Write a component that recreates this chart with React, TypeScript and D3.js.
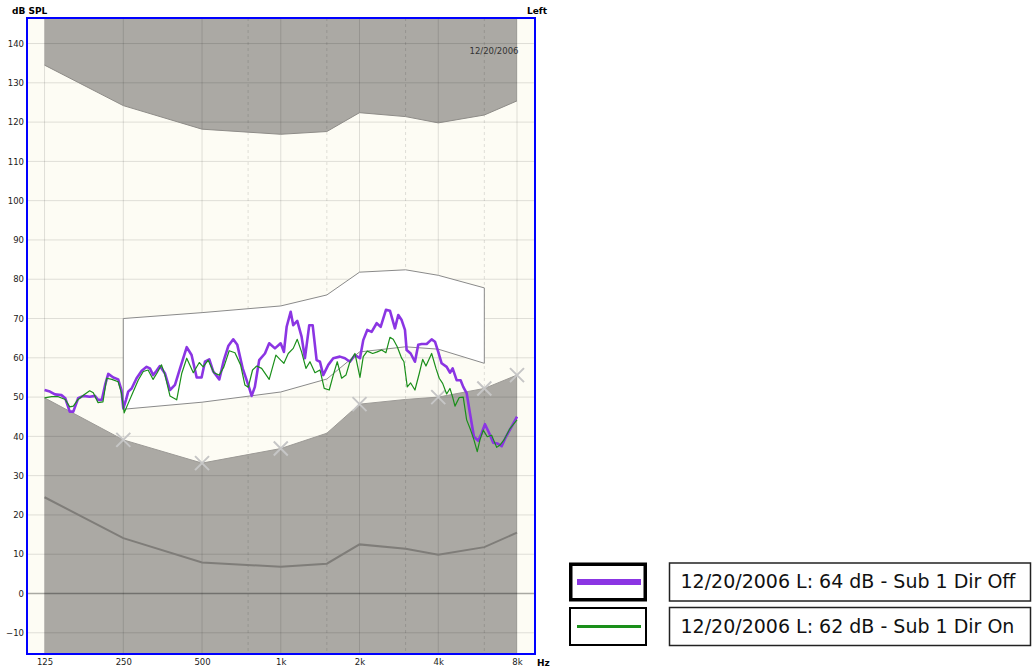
import React, { useEffect, useRef } from 'react';
import * as d3 from 'd3';

// axis ticks
const freqTicks = [125, 250, 500, 1000, 2000, 4000, 8000];
const freqTickLabels = ['125', '250', '500', '1k', '2k', '4k', '8k'];
const midFreqs = [750, 1500, 3000, 6000];
const dbTicks = [-10, 0, 10, 20, 30, 40, 50, 60, 70, 80, 90, 100, 110, 120, 130, 140];

// audiometric limits (UCL on top, threshold below, noise line)
const boundFreqs = [125, 250, 500, 1000, 1500, 2000, 3000, 4000, 6000, 8000];
const uclDb = [134.5, 124.2, 118.2, 116.9, 117.6, 122.4, 121.4, 119.8, 121.8, 125.4];
const thresholdDb = [49.8, 39.1, 33.2, 36.9, 40.8, 48.2, 49.4, 50.0, 52.2, 55.6];
const noiseDb = [24.5, 14.1, 7.9, 6.8, 7.6, 12.5, 11.4, 9.9, 11.8, 15.5];
const markerFreqs = [250, 500, 1000, 2000, 4000, 6000, 8000];

// target speech zone
const zoneFreqs = [250, 500, 1000, 1500, 2000, 3000, 4000, 6000];
const zoneTop = [70.0, 71.5, 73.2, 76.0, 81.8, 82.4, 81.0, 77.8];
const zoneBottom = [46.9, 48.7, 51.3, 54.6, 61.5, 62.8, 62.2, 58.6];

// Dir Off response
const offFreqs = [
  125, 131, 137, 145, 150, 156, 161, 168, 176, 186,
  195, 200, 207, 213, 219, 229, 239, 246, 250, 256,
  261, 269, 281, 294, 307, 316, 325, 335, 345, 361,
  377, 394, 412, 437, 456, 477, 498, 513, 533, 552,
  582, 606, 630, 658, 682, 715, 751, 774, 796, 827,
  870, 903, 950, 999, 1028, 1053, 1091, 1116, 1156, 1201,
  1237, 1285, 1324, 1371, 1412, 1453, 1519, 1587, 1683, 1759,
  1838, 1921, 2008, 2067, 2141, 2225, 2326, 2409, 2524, 2614,
  2732, 2813, 2898, 2984, 3028, 3137, 3258, 3354, 3456, 3612,
  3774, 3886, 4000, 4121, 4307, 4434, 4540, 4703, 4871, 4984,
  5136, 5287, 5477, 5688, 5861, 6034, 6266, 6491, 6724, 6989,
  7259, 7633, 8000,
];
const offDb = [
  51.8, 51.4, 50.7, 50.5, 49.7, 46.3, 46.3, 49.7, 50.3, 50.1,
  50.3, 49.3, 49.3, 53.1, 55.9, 55.0, 54.5, 51.8, 47.1, 49.3,
  51.4, 52.2, 54.8, 56.7, 57.7, 57.3, 55.6, 56.7, 57.9, 56.0,
  51.8, 53.1, 57.3, 62.7, 60.7, 55.0, 55.0, 59.0, 59.6, 56.5,
  54.5, 59.4, 63.0, 64.7, 63.3, 57.3, 53.1, 50.3, 52.6, 59.4,
  61.1, 63.7, 62.4, 63.7, 61.5, 67.9, 71.7, 68.3, 69.4, 65.4,
  59.9, 68.3, 68.3, 59.4, 59.0, 55.6, 58.2, 59.9, 60.3, 59.9,
  59.0, 60.7, 59.9, 64.5, 67.1, 66.6, 68.8, 67.9, 72.2, 72.0,
  67.5, 70.9, 69.6, 67.1, 62.0, 61.1, 59.0, 63.3, 63.5, 63.5,
  64.7, 64.1, 61.5, 58.6, 57.7, 56.2, 57.3, 54.3, 54.3, 52.6,
  51.0, 45.9, 39.9, 38.9, 40.8, 43.1, 40.8, 38.4, 38.2, 37.5,
  39.9, 42.5, 45.0,
];

// Dir On response
const onFreqs = [
  125, 133, 141, 150, 156, 161, 168, 178, 186, 192,
  200, 209, 216, 226, 239, 246, 252, 261, 273, 285,
  298, 311, 325, 337, 350, 361, 377, 400, 418, 437,
  463, 488, 505, 528, 555, 582, 606, 635, 668, 702,
  729, 751, 780, 809, 845, 903, 958, 999, 1028, 1068,
  1116, 1156, 1201, 1248, 1293, 1351, 1412, 1466, 1532, 1587,
  1644, 1709, 1775, 1838, 1921, 2008, 2067, 2141, 2245, 2338,
  2430, 2524, 2614, 2691, 2788, 2898, 2958, 3045, 3137, 3258,
  3384, 3487, 3590, 3774, 3920, 4035, 4158, 4307, 4434, 4540,
  4634, 4812, 4984, 5136, 5320, 5477, 5638, 5774, 5944, 6157,
  6400, 6689, 6886, 7133, 7520, 8000,
];
const onDb = [
  49.8, 50.1, 50.1, 49.4, 47.5, 47.7, 49.4, 50.7, 51.6, 51.1,
  48.6, 48.8, 54.8, 54.5, 53.9, 51.0, 46.0, 48.4, 51.4, 54.3,
  56.5, 56.9, 54.5, 56.2, 58.2, 55.6, 50.3, 49.3, 56.0, 59.9,
  56.2, 58.8, 57.7, 59.4, 56.2, 55.6, 57.7, 61.8, 61.3, 58.2,
  53.1, 52.5, 56.9, 57.9, 57.3, 54.5, 60.7, 59.4, 58.6, 61.1,
  62.4, 64.7, 61.5, 57.3, 59.0, 56.2, 56.9, 52.2, 51.8, 55.6,
  59.0, 54.8, 55.6, 59.0, 61.1, 55.0, 60.3, 61.7, 61.1, 61.5,
  62.0, 61.3, 65.2, 64.7, 62.8, 59.9, 59.0, 52.6, 53.6, 51.8,
  56.0, 59.6, 57.9, 61.1, 57.3, 54.8, 53.5, 50.8, 52.2, 50.0,
  47.7, 49.9, 50.0, 44.2, 41.6, 39.1, 36.1, 39.1, 41.6, 39.9,
  40.3, 37.2, 37.8, 39.1, 42.0, 44.2,
];

const legendLabels = [
  '12/20/2006 L: 64 dB - Sub 1 Dir Off',
  '12/20/2006 L: 62 dB - Sub 1 Dir On',
];
const seriesColors = ['#8b35e3', '#1a8f1a'];

const W = 1034;
const H = 668;
const frame = { left: 27, right: 535, top: 18, bottom: 654 };
const GRAY = '#aba9a4';
const FONT = "'DejaVu Sans', Verdana, sans-serif";

function App() {
  const svgRef = useRef<SVGSVGElement>(null);

  useEffect(() => {
    const svg = d3.select(svgRef.current);
    svg.selectAll('*').remove();

    const x = d3.scaleLog().domain([107.1, 9374]).range([frame.left, frame.right]);
    const y = d3.scaleLinear().domain([-15.4, 146.5]).range([frame.bottom, frame.top]);
    const [yMin, yMax] = y.domain();

    svg.append('rect').attr('width', W).attr('height', H).attr('fill', '#fff');
    svg.append('rect')
      .attr('x', frame.left).attr('y', frame.top)
      .attr('width', frame.right - frame.left).attr('height', frame.bottom - frame.top)
      .attr('fill', '#fdfcf4');

    const bounds = boundFreqs.map((f, i) => ({ f, ucl: uclDb[i], thr: thresholdDb[i], noise: noiseDb[i] }));

    // gray regions above UCL and below threshold
    svg.append('path').datum(bounds).attr('fill', GRAY)
      .attr('d', d3.area<any>().x(d => x(d.f)).y0(y(yMax)).y1(d => y(d.ucl)));
    svg.append('path').datum(bounds).attr('fill', GRAY)
      .attr('d', d3.area<any>().x(d => x(d.f)).y0(y(yMin)).y1(d => y(d.thr)));

    // grid
    const grid = svg.append('g');
    grid.selectAll('line.v').data(freqTicks).join('line')
      .attr('x1', d => x(d)).attr('x2', d => x(d))
      .attr('y1', frame.top).attr('y2', frame.bottom)
      .attr('stroke', 'rgba(0,0,0,0.12)').attr('stroke-width', 1);
    grid.selectAll('line.m').data(midFreqs).join('line')
      .attr('x1', d => x(d)).attr('x2', d => x(d))
      .attr('y1', frame.top).attr('y2', frame.bottom)
      .attr('stroke', 'rgba(0,0,0,0.12)').attr('stroke-dasharray', '3,3');
    grid.selectAll('line.h').data(dbTicks).join('line')
      .attr('x1', frame.left).attr('x2', frame.right)
      .attr('y1', d => y(d)).attr('y2', d => y(d))
      .attr('stroke', d => (d === 0 ? 'rgba(0,0,0,0.33)' : 'rgba(0,0,0,0.12)'))
      .attr('stroke-width', d => (d === 0 ? 1.3 : 1));

    // boundary lines
    svg.append('path').datum(bounds).attr('fill', 'none').attr('stroke', '#8e8c88')
      .attr('d', d3.line<any>().x(d => x(d.f)).y(d => y(d.ucl)));
    svg.append('path').datum(bounds).attr('fill', 'none').attr('stroke', '#9c9a96')
      .attr('d', d3.line<any>().x(d => x(d.f)).y(d => y(d.thr)));
    svg.append('path').datum(bounds).attr('fill', 'none').attr('stroke', '#7f7d79').attr('stroke-width', 2)
      .attr('d', d3.line<any>().x(d => x(d.f)).y(d => y(d.noise)));

    // speech zone
    const zone = zoneFreqs.map((f, i) => ({ f, top: zoneTop[i], bottom: zoneBottom[i] }));
    svg.append('path').datum(zone)
      .attr('fill', '#ffffff').attr('stroke', '#8a8a8a').attr('stroke-width', 1)
      .attr('d', d3.area<any>().x(d => x(d.f)).y0(d => y(d.bottom)).y1(d => y(d.top)));

    // threshold markers
    const markers = markerFreqs.map(f => ({ f, v: thresholdDb[boundFreqs.indexOf(f)] }));
    svg.selectAll('path.mark').data(markers).join('path')
      .attr('transform', d => `translate(${x(d.f)},${y(d.v)})`)
      .attr('d', 'M-7,-7L7,7M-7,7L7,-7')
      .attr('stroke', '#c6c6c6').attr('stroke-width', 2).attr('fill', 'none');

    // responses
    const offData = offFreqs.map((f, i) => ({ f, v: offDb[i] }));
    const onData = onFreqs.map((f, i) => ({ f, v: onDb[i] }));
    const line = d3.line<any>().x(d => x(d.f)).y(d => y(d.v));
    svg.append('path').datum(offData).attr('fill', 'none')
      .attr('stroke', seriesColors[0]).attr('stroke-width', 2.6).attr('stroke-linejoin', 'round')
      .attr('d', line);
    svg.append('path').datum(onData).attr('fill', 'none')
      .attr('stroke', seriesColors[1]).attr('stroke-width', 1.2).attr('stroke-linejoin', 'round')
      .attr('d', line);

    // frame
    svg.append('rect')
      .attr('x', frame.left).attr('y', frame.top)
      .attr('width', frame.right - frame.left).attr('height', frame.bottom - frame.top)
      .attr('fill', 'none').attr('stroke', '#0000ff').attr('stroke-width', 2);

    // axes
    const yAxis = svg.append('g')
      .attr('transform', `translate(${frame.left},0)`)
      .call(d3.axisLeft(y).tickValues(dbTicks).tickSize(0).tickPadding(3).tickFormat(d3.format('d')));
    yAxis.select('.domain').remove();
    yAxis.selectAll('text').attr('font-family', FONT).attr('font-size', 8.5).attr('fill', '#1a1a1a');

    const xAxis = svg.append('g')
      .attr('transform', `translate(0,${frame.bottom})`)
      .call(d3.axisBottom(x).tickValues(freqTicks).tickSize(0).tickPadding(5)
        .tickFormat((d, i) => freqTickLabels[i]));
    xAxis.select('.domain').remove();
    xAxis.selectAll('text').attr('font-family', FONT).attr('font-size', 8.5).attr('fill', '#1a1a1a');

    svg.append('text').attr('x', 12).attr('y', 14)
      .attr('font-family', FONT).attr('font-size', 9).attr('font-weight', 'bold').text('dB SPL');
    svg.append('text').attr('x', 527).attr('y', 14)
      .attr('font-family', FONT).attr('font-size', 9).attr('font-weight', 'bold').text('Left');
    svg.append('text').attr('x', frame.right + 2).attr('y', 665.5)
      .attr('font-family', FONT).attr('font-size', 9).attr('font-weight', 'bold').text('Hz');
    svg.append('text').attr('x', x(8000) + 1.5).attr('y', 54)
      .attr('text-anchor', 'end')
      .attr('font-family', FONT).attr('font-size', 8.5).attr('fill', '#333').text('12/20/2006');

    // legend
    const legend = svg.append('g');
    legendLabels.forEach((label, i) => {
      const top = 562.5 + i * 44.5;
      const thick = i === 0 ? 3.5 : 2;
      legend.append('rect')
        .attr('x', 569 + thick / 2).attr('y', top + thick / 2)
        .attr('width', 78 - thick).attr('height', 39 - thick)
        .attr('fill', '#fff').attr('stroke', '#000').attr('stroke-width', thick);
      legend.append('line')
        .attr('x1', 577).attr('x2', 641)
        .attr('y1', top + 19.5).attr('y2', top + 19.5)
        .attr('stroke', seriesColors[i]).attr('stroke-width', i === 0 ? 6 : 3);
      legend.append('rect')
        .attr('x', 669.5).attr('y', top + 0.5)
        .attr('width', 361).attr('height', 38)
        .attr('fill', '#fff').attr('stroke', '#222').attr('stroke-width', 1.5);
      legend.append('text')
        .attr('x', 680.5).attr('y', top + 25.5)
        .attr('font-family', FONT).attr('font-size', 19).attr('fill', '#111')
        .text(label);
    });
  }, []);

  return (
    <svg
      ref={svgRef}
      width={W}
      height={H}
      style={{ position: 'absolute', left: 0, top: 0, display: 'block' }}
    />
  );
}

export default App;
